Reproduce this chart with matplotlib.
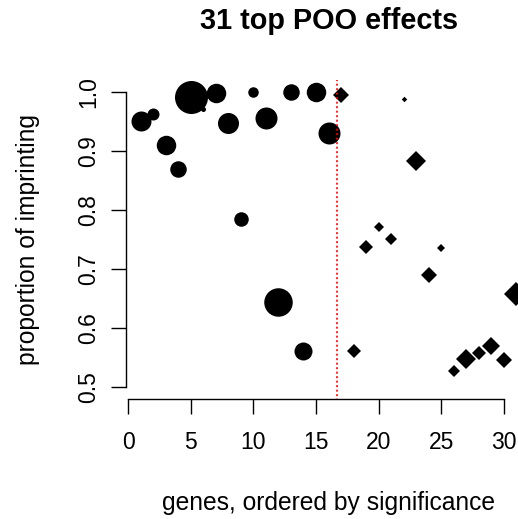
import matplotlib
matplotlib.use("Agg")
import matplotlib.pyplot as plt

# genes ordered by significance, proportion of imprinting, relative weight (cex)
gene_rank = list(range(1, 32))
imprinting = [0.951, 0.963, 0.910, 0.870, 0.992, 0.971, 0.999, 0.948, 0.785, 1.000,
              0.956, 0.644, 1.000, 0.561, 1.000, 0.931, 0.996, 0.560, 0.738, 0.771,
              0.751, 0.988, 0.883, 0.689, 0.736, 0.527, 0.548, 0.558, 0.569, 0.546,
              0.658]
weight = [2.0, 1.2, 1.95, 1.65, 3.3, 0.5, 1.95, 2.1, 1.45, 1.05,
          2.2, 2.85, 1.65, 1.8, 1.95, 2.2, 1.55, 1.45, 1.4, 1.05,
          1.25, 0.55, 1.95, 1.6, 0.85, 1.2, 2.05, 1.35, 1.8, 1.65,
          2.3]
cutoff = 16.65
x_ticks = [0, 5, 10, 15, 20, 25, 30]
y_ticks = [0.5, 0.6, 0.7, 0.8, 0.9, 1.0]

plt.rcParams["font.family"] = ["Liberation Sans", "DejaVu Sans"]

fig = plt.figure(figsize=(5.18, 5.19), dpi=100)
ax = fig.add_axes([0.2423, 0.2320, 0.7838, 0.6129])

# px -> pt at 100 dpi is 0.72
for x, y, w in zip(gene_rank, imprinting, weight):
    if x < cutoff:
        ax.plot(x, y, "o", color="black", markersize=w * 10 * 0.72, markeredgewidth=0)
    else:
        ax.plot(x, y, "D", color="black", markersize=w * 10 * 0.72 / 1.414, markeredgewidth=0)

ax.axvline(cutoff, color="red", linestyle=(1, (1.2, 1.5)), linewidth=1.2)

ax.set_xlim(-0.2, 32.2)
ax.set_ylim(0.48, 1.02)
ax.set_xticks(x_ticks)
ax.set_yticks(y_ticks)
ax.set_xticklabels([str(t) for t in x_ticks], fontsize=16.5)
ax.set_yticklabels(["%.1f" % t for t in y_ticks], fontsize=16.5, rotation=90, va="center")

for side in ["top", "right"]:
    ax.spines[side].set_visible(False)
ax.spines["bottom"].set_bounds(0, 30)
ax.spines["left"].set_bounds(0.5, 1.0)
ax.spines["bottom"].set_linewidth(1.0)
ax.spines["left"].set_linewidth(1.0)
ax.tick_params(axis="x", length=10.8, width=1.0, pad=12.5)
ax.tick_params(axis="y", length=10.8, width=1.0, pad=7.5)

ax.set_title("31 top POO effects", fontsize=20.8, fontweight="bold", pad=36.9)
ax.set_xlabel("genes, ordered by significance", fontsize=17.7, va="baseline")
ax.xaxis.set_label_coords(0.5, -0.3502)
ax.set_ylabel("proportion of imprinting", fontsize=17.7, va="baseline")
ax.yaxis.set_label_coords(-0.222, 0.5)

fig.savefig("out.png", dpi=100)
